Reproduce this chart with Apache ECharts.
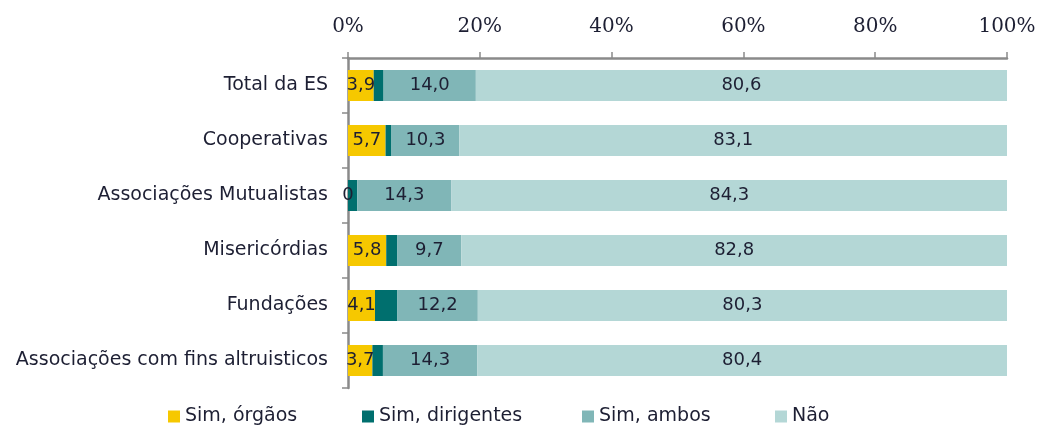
<!DOCTYPE html>
<html>
<head>
    <meta charset="utf-8">
    <title>ECharts</title>
    <script src="https://cdn.jsdelivr.net/npm/echarts@6/dist/echarts.min.js"></script>
    <style>
        html, body { margin: 0; padding: 0; background: #fff; }
    </style>
</head>
<body>
    <div id="main" style="width: 1037px;height:426px;"></div>

    <script type="text/javascript">
    var categories = ['Total da ES', 'Cooperativas', 'Associações Mutualistas', 'Misericórdias', 'Fundações', 'Associações com fins altruisticos'];
    var seriesNames = ['Sim, órgãos', 'Sim, dirigentes', 'Sim, ambos', 'Não'];
    var orgaos = [3.9, 5.7, 0, 5.8, 4.1, 3.7];
    var dirigentes = [1.5, 0.9, 1.4, 1.7, 3.4, 1.6];
    var ambos = [14.0, 10.3, 14.3, 9.7, 12.2, 14.3];
    var nao = [80.6, 83.1, 84.3, 82.8, 80.3, 80.4];
    var colors = ['#f6c800', '#006f6e', '#80b6b7', '#b4d7d6'];

    var myChart = echarts.init(document.getElementById('main'));

    var axisGrey = '#8a8a8a';
    var textColor = '#1d1f33';
    var labelFont = 'DejaVu Sans';

    function fmt(v) {
        if (v === 0) return '0';
        return v.toFixed(1).replace('.', ',');
    }

    function barSeries(name, data, idx, showLabel) {
        return {
            name: name,
            type: 'bar',
            stack: 'total',
            barWidth: 31,
            itemStyle: { color: colors[idx] },
            label: {
                show: showLabel,
                position: 'inside',
                color: textColor,
                fontFamily: labelFont,
                fontSize: 18,
                formatter: function (p) { return fmt(p.value); }
            },
            emphasis: { disabled: true },
            data: data
        };
    }

    var legendLeft = [163, 357, 577, 770];

    var option = {
        animation: false,
        backgroundColor: '#fff',
        grid: {
            left: 348,
            right: 30,
            top: 58,
            bottom: 38,
            outerBoundsMode: 'none'
        },
        legend: seriesNames.map(function (n, i) {
            return {
                data: [n],
                left: legendLeft[i],
                top: 402,
                icon: 'rect',
                itemWidth: 12,
                itemHeight: 12,
                itemGap: 5,
                textStyle: { fontFamily: labelFont, fontSize: 19, color: textColor }
            };
        }),
        xAxis: {
            type: 'value',
            position: 'top',
            min: 0,
            max: 100,
            interval: 20,
            axisLine: { show: true, lineStyle: { color: axisGrey, width: 2.5 } },
            axisTick: { show: true, length: 6, lineStyle: { color: axisGrey, width: 1.5 } },
            splitLine: { show: false },
            axisLabel: {
                formatter: '{value}%',
                margin: 21,
                color: textColor,
                fontFamily: 'DejaVu Serif',
                fontSize: 20
            }
        },
        yAxis: {
            type: 'category',
            inverse: true,
            data: categories,
            axisLine: { show: true, lineStyle: { color: axisGrey, width: 2.5 } },
            axisTick: { show: true, length: 6, lineStyle: { color: axisGrey, width: 1.5 } },
            axisLabel: {
                margin: 20,
                color: textColor,
                fontFamily: labelFont,
                fontSize: 19
            }
        },
        series: [
            barSeries(seriesNames[0], orgaos, 0, true),
            barSeries(seriesNames[1], dirigentes, 1, false),
            barSeries(seriesNames[2], ambos, 2, true),
            barSeries(seriesNames[3], nao, 3, true)
        ]
    };

    myChart.setOption(option);
    </script>
</body>
</html>
